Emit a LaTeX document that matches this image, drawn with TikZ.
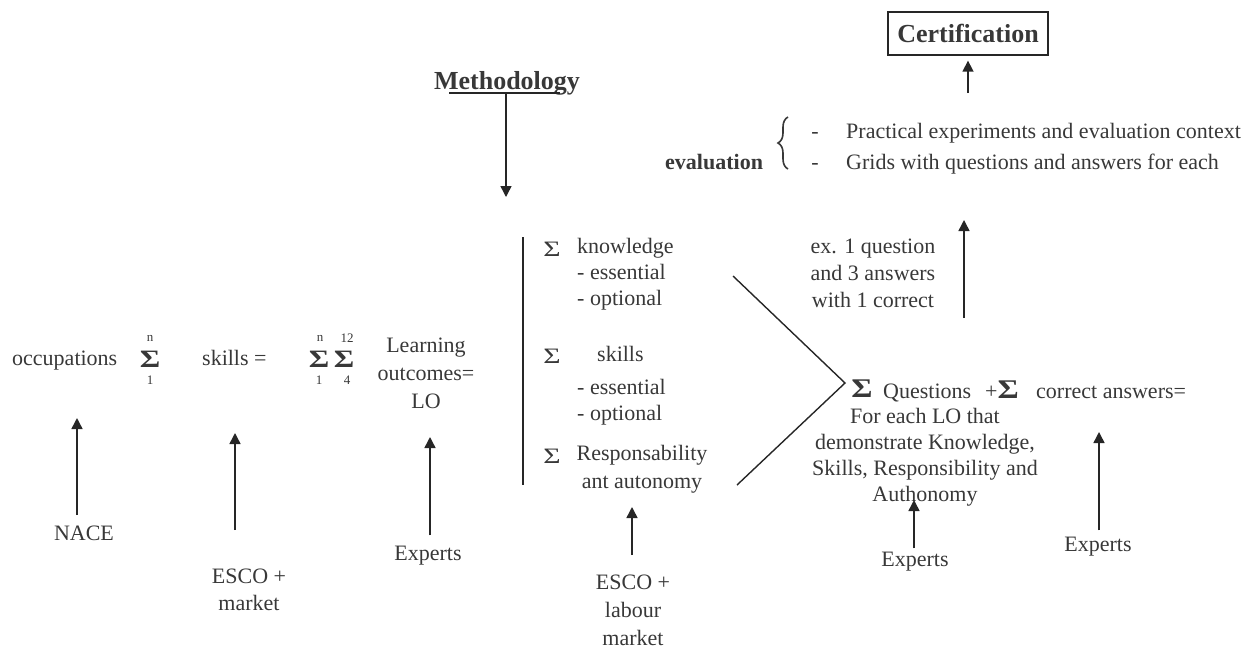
\documentclass[tikz,border=0pt]{standalone}
\usepackage{fontspec}
\setmainfont{Liberation Serif}
\usepackage{xcolor}
\usepackage{graphicx}
\usetikzlibrary{arrows.meta, positioning, decorations.pathreplacing}

\colorlet{ink}{black!78}
\newcommand{\widesum}[1][1.3]{\scalebox{#1}[1]{Σ}}

\begin{document}
\begin{tikzpicture}[
  x=1pt, y=-1pt,
  txt/.style={inner sep=0pt, text=ink, font=\fontsize{22}{27}\selectfont},
  bold/.style={txt, font=\fontsize{22}{27}\selectfont\bfseries},
  head/.style={inner sep=0pt, text=ink, font=\fontsize{26}{30}\selectfont\bfseries},
  bigsum/.style={inner sep=0pt, text=ink, anchor=base, font=\fontsize{25}{27}\selectfont\bfseries},
  smallsum/.style={inner sep=0pt, text=ink, anchor=base, font=\fontsize{22}{27}\selectfont},
  lim/.style={inner sep=0pt, text=ink, font=\fontsize{13}{15}\selectfont},
  certbox/.style={head, draw=black!85, line width=1.3pt, minimum width=160pt, minimum height=43pt},
  arr/.style={-{Triangle[length=11pt,width=11pt]}, line width=1.5pt, draw=black!85},
  rule/.style={line width=1.4pt, draw=black!85},
]
\useasboundingbox (0,0) rectangle (1253,649);

% Left formula
\node[txt, anchor=base west] (occ) at (12,365) {occupations};
\node[bigsum] (sumA) at (150,367) {\widesum[1.25]};
\node[lim] (sumAtop) at (150,338) {n};
\node[lim] (sumAbot) at (150,380) {1};
\node[txt, anchor=base west] (skl) at (202,365) {skills =};
\node[bigsum] (sumB) at (319,367) {\widesum[1.25]};
\node[lim] (sumBtop) at (320,338) {n};
\node[lim] (sumBbot) at (319,380) {1};
\node[bigsum] (sumC) at (344,367) {\widesum[1.25]};
\node[lim] (sumCtop) at (347,338) {12};
\node[lim] (sumCbot) at (347,380) {4};
\node[txt, align=center, anchor=north, font=\fontsize{22}{28}\selectfont] (lo) at (426,338) {Learning\\outcomes=\\LO};

% Sources below
\node[txt, anchor=base] (nace) at (84,540) {NACE};
\node[txt, align=center, anchor=north] (escoL) at (249,569) {ESCO +\\market};
\node[txt, anchor=base] (expL) at (428,560) {Experts};

\coordinate (naceTip) at (77,418);
\coordinate (escoTip) at (235,433);
\coordinate (expLTip) at (430,437);
\draw[arr, shorten <=10pt] (nace.north -| naceTip) -- (naceTip);
\draw[arr, shorten <=39pt] (escoL.north -| escoTip) -- (escoTip);
\draw[arr, shorten <=10pt] (expL.north -| expLTip) -- (expLTip);

% Methodology
\node[head, anchor=base] (meth) at (507,89) {Methodology};
\draw[rule, line width=1.1pt] ([xshift=-58pt, yshift=-4pt]meth.base) -- ([xshift=53pt, yshift=-4pt]meth.base);
\coordinate (methTip) at (506,197);
\draw[arr] ([xshift=-1pt, yshift=-4pt]meth.base) -- (methTip);

% Sigma block
\coordinate (barTop) at (523,237);
\coordinate (barBot) at (523,485);
\draw[rule] (barTop) -- (barBot);

\node[smallsum] (sumK) at (552,256) {\widesum[1.35]};
\node[txt, align=left, anchor=north west, font=\fontsize{22}{26}\selectfont] (know) at (577,238) {knowledge\\- essential\\- optional};
\node[smallsum] (sumS) at (552,363) {\widesum[1.35]};
\node[txt, anchor=base west] (skills) at (597,361) {skills};
\node[txt, align=left, anchor=north west, font=\fontsize{22}{26}\selectfont] (sklist) at (577,379) {- essential\\- optional};
\node[smallsum] (sumR) at (552,463) {\widesum[1.35]};
\node[txt, align=center, anchor=north, font=\fontsize{22}{28}\selectfont] (resp) at (642,445) {Responsability\\ant autonomy};

\node[txt, align=center, anchor=north, font=\fontsize{22}{28}\selectfont] (escoR) at (633,575) {ESCO +\\labour\\market};
\coordinate (escoRTip) at (632,507);
\draw[arr, shorten <=20pt] (escoR.north -| escoRTip) -- (escoRTip);

% Converging lines
\coordinate (kTop) at (733,276);
\coordinate (vertex) at (845,383);
\coordinate (rBot) at (737,485);
\draw[rule] (kTop) -- (vertex) -- (rBot);

% Questions and answers
\node[bigsum, font=\fontsize{27}{27}\selectfont\bfseries] (sumQ) at (862,397) {\widesum[1.2]};
\node[txt, anchor=base west] (quest) at (883,398) {Questions};
\node[txt, anchor=base west] (plusA) at (985,398) {+\fontsize{27}{27}\selectfont\bfseries\widesum[1.2]};
\node[txt, anchor=base west] (answ) at (1036,398) {correct answers=};
\node[txt, align=center, anchor=north, font=\fontsize{22}{26}\selectfont] (each) at (925,408) {For each LO that\\demonstrate Knowledge,\\Skills, Responsibility and\\Authonomy};

\node[txt, anchor=base] (expQ) at (915,566) {Experts};
\node[txt, anchor=base] (expA) at (1098,551) {Experts};
\coordinate (expQTip) at (914,500);
\coordinate (expATip) at (1099,432);
\draw[arr, shorten <=3pt] (expQ.north -| expQTip) -- (expQTip);
\draw[arr, shorten <=6pt] (expA.north -| expATip) -- (expATip);

% Example and evaluation
\node[txt, align=center, anchor=north] (example) at (873,239) {ex. 1 question\\and 3 answers\\with 1 correct};
\coordinate (evalFoot) at (964,318);
\coordinate (evalTip) at (964,220);
\draw[arr] (evalFoot) -- (evalTip);

\node[bold, anchor=base west] (eval) at (665,169) {evaluation};
\coordinate (brBot) at (788,169);
\coordinate (brTop) at (788,117);
\draw[draw=ink, line width=1.6pt, decorate, decoration={brace, amplitude=10pt}] (brBot) -- (brTop);
\node[txt, anchor=base] (dashA) at (815,138) {-};
\node[txt, anchor=base] (dashB) at (815,169) {-};
\node[txt, anchor=base west] (itemA) at (846,138) {Practical experiments and evaluation context};
\node[txt, anchor=base west] (itemB) at (846,169) {Grids with questions and answers for each};

% Certification
\node[certbox] (cert) at (968,33.5) {Certification};
\coordinate (certFoot) at (968,93);
\draw[arr, shorten >=5pt] (certFoot) -- (cert.south);

\end{tikzpicture}
\end{document}
